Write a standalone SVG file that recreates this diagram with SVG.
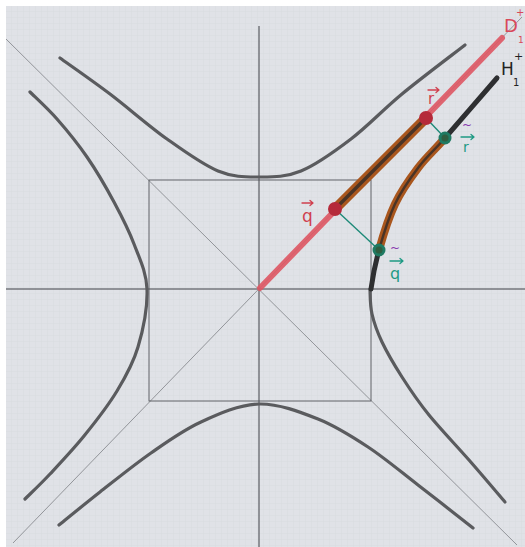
<svg xmlns="http://www.w3.org/2000/svg" width="525" height="547" viewBox="0 0 525 547">
<defs>
<pattern id="grid" width="6" height="6" patternUnits="userSpaceOnUse" x="6" y="6">
<path d="M6 0 V6 M0 6 H6" fill="none" stroke="#d3d6dc" stroke-width="0.6"/>
</pattern>
<style>
.hyp{fill:none;stroke:#5a5b5e;stroke-width:3.2;stroke-linecap:round;stroke-linejoin:round}
.thin{fill:none;stroke:#3f4146;stroke-width:1}
.sq{fill:none;stroke:#55575c;stroke-width:0.9}
.diag{fill:none;stroke:#7f8187;stroke-width:0.8}
.blk{fill:none;stroke:#2e2f31;stroke-width:5;stroke-linecap:round}
.org{fill:none;stroke:#a9561d;stroke-width:10;stroke-linecap:round}
.core{fill:none;stroke:#3a2e28;stroke-width:3.5;stroke-linecap:round;opacity:0.85}
.red{fill:none;stroke:#de5663;stroke-width:6;stroke-linecap:round;opacity:0.9}
.conn{fill:none;stroke:#1d8a78;stroke-width:1.4}
.lbl{font-family:"DejaVu Sans","Liberation Sans",sans-serif}
.vec{fill:none;stroke-width:1.3;stroke-linecap:round;stroke-linejoin:round}
</style>
</defs>
<rect width="525" height="547" fill="#ffffff"/>
<rect x="6" y="6" width="519" height="541" fill="#e0e2e7"/>
<rect x="6" y="6" width="519" height="541" fill="url(#grid)"/>

<g id="axes">
<line class="thin" x1="6" y1="289" x2="525" y2="289"/>
<line class="thin" x1="259" y1="26" x2="259" y2="547"/>
<line class="diag" x1="6" y1="39" x2="517" y2="545"/>
<line class="diag" x1="13" y1="543" x2="522" y2="17"/>
<rect class="sq" x="149" y="180" width="222" height="221"/>
</g>

<g id="hyperbolas">
<path class="hyp" d="M60,58 C68.3,64 92.2,80.5 110,94 C127.8,107.5 149,126.2 167,139 C185,151.8 202.7,164.7 218,171 C233.3,177.3 245.2,177 259,177 C272.8,177 285.7,177.3 301,171 C316.3,164.7 334.2,151.8 351,139 C367.8,126.2 383,109.7 402,94 C421,78.3 454.5,53.2 465,45"/>
<path class="hyp" d="M59,525 C65.8,519.5 84.7,504 100,492 C115.3,480 134.2,464.7 151,453 C167.8,441.3 183,430.2 201,422 C219,413.8 239.5,404.5 259,404 C278.5,403.5 299.8,411.8 318,419 C336.2,426.2 351.3,436 368,447 C384.7,458 400.5,471.5 418,485 C435.5,498.5 463.8,520.8 473,528"/>
<path class="hyp" d="M30,92 C34.5,96.5 47.5,108.2 57,119 C66.5,129.8 77.5,143.2 87,157 C96.5,170.8 106.2,187.5 114,202 C121.8,216.5 128.5,229.5 134,244 C139.5,258.5 146.3,271.8 147,289 C147.7,306.2 143,330 138,347 C133,364 126,376.2 117,391 C108,405.8 95.2,422.2 84,436 C72.8,449.8 59.8,463.5 50,474 C40.2,484.5 29.2,494.8 25,499"/>
<path class="hyp" d="M370,289 C370.3,297.3 370,305.2 372,314 C374,322.8 377,331.5 382,342 C387,352.5 394.2,364.8 402,377 C409.8,389.2 417.8,401.2 429,415 C440.2,428.8 456.3,445.5 469,460 C481.7,474.5 499,495 505,502"/>
<path class="blk" d="M371,289 C372.5,278.3 375,264.2 379,250"/>
<path class="blk" d="M445,138 C458.2,123 488.3,88 497,78"/>
</g>

<g id="paths">
<line class="red" x1="260" y1="288" x2="502" y2="38"/>
<line class="org" x1="335" y1="209" x2="426" y2="118"/>
<line class="core" x1="335" y1="209" x2="426" y2="118"/>
<path class="org" d="M379,250 C383,235.8 388.5,217.7 395,204 C401.5,190.3 409.7,179 418,168 C426.3,157 431.8,153 445,138" style="stroke-width:8"/>
<path class="core" d="M379,250 C383,235.8 388.5,217.7 395,204 C401.5,190.3 409.7,179 418,168 C426.3,157 431.8,153 445,138" style="stroke-width:2.5"/>
</g>

<g id="connectors">
<line class="conn" x1="335" y1="209" x2="379" y2="250"/>
<line class="conn" x1="426" y1="118" x2="445" y2="138"/>
</g>

<g id="node-q">
<circle cx="335" cy="209" r="7" fill="#b52a3a"/>
<text class="lbl" x="302" y="222" font-size="17" fill="#d0404f">q</text>
<path class="vec" stroke="#d0404f" d="M302,203 H313 M310,200.5 L313,203 L310,205.5"/>
</g>
<g id="node-r">
<circle cx="426" cy="118" r="7" fill="#b52a3a"/>
<text class="lbl" x="428" y="104" font-size="15" fill="#d0404f">r</text>
<path class="vec" stroke="#d0404f" d="M428,90 H439 M436,87.5 L439,90 L436,92.5"/>
</g>
<g id="node-qt">
<circle cx="379" cy="250" r="6.5" fill="#1f7a62"/>
<circle cx="379" cy="250" r="3.5" fill="#3b4a2a" opacity="0.6"/>
<text class="lbl" x="390" y="279" font-size="16" fill="#1f9a84">q</text>
<path class="vec" stroke="#1f9a84" d="M390,261 H403 M400,258.5 L403,261 L400,263.5"/>
<text class="lbl" x="390" y="252" font-size="12" fill="#8a3ab0">~</text>
</g>
<g id="node-rt">
<circle cx="445" cy="138" r="6.5" fill="#1f7a62"/>
<circle cx="445" cy="138" r="3.5" fill="#3b4a2a" opacity="0.6"/>
<text class="lbl" x="463" y="152" font-size="14" fill="#1f9a84">r</text>
<path class="vec" stroke="#1f9a84" d="M461,137 H474 M471,134.5 L474,137 L471,139.5"/>
<text class="lbl" x="462" y="129" font-size="12" fill="#8a3ab0">~</text>
</g>
<g id="label-D">
<text class="lbl" x="504" y="32" font-size="18" fill="#d8495a">D</text>
<text class="lbl" x="516" y="16" font-size="10" fill="#d8495a">+</text>
<text class="lbl" x="518" y="43" font-size="9" fill="#d8495a">1</text>
</g>
<g id="label-H">
<text class="lbl" x="501" y="75" font-size="17" fill="#222">H</text>
<text class="lbl" x="514" y="60" font-size="11" fill="#222">+</text>
<text class="lbl" x="513" y="86" font-size="10" fill="#222">1</text>
</g>
</svg>
